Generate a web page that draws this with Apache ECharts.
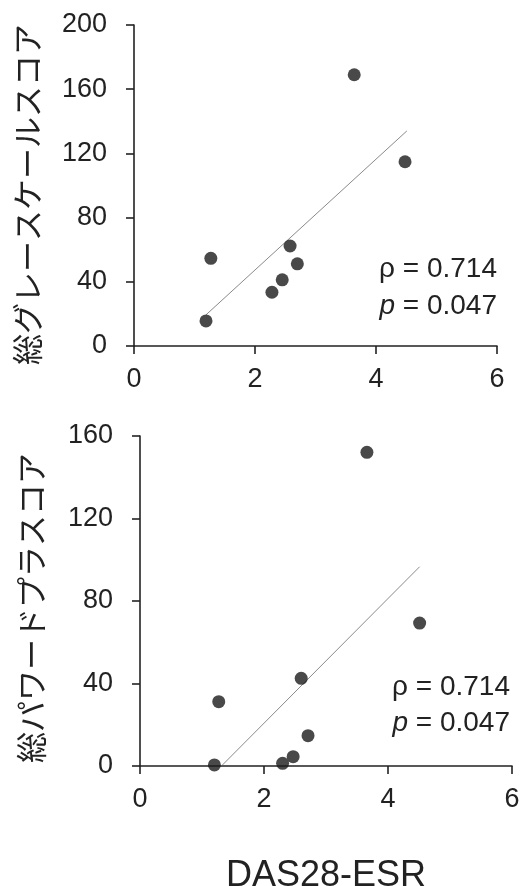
<!DOCTYPE html>
<html>
<head>
<meta charset="utf-8">
<script src="https://cdn.jsdelivr.net/npm/echarts@6/dist/echarts.min.js"></script>
<style>
  html, body { margin: 0; padding: 0; background: #fff; }
  #chart { width: 526px; height: 886px; }
</style>
</head>
<body>
<div id="chart"></div>
<script>
// DAS28-ESR vs total grey-scale score (top panel)
const das28Grey = [1.19, 1.27, 2.28, 2.45, 2.58, 2.70, 3.64, 4.48]
const greyScore = [15.6, 54.6, 33.5, 41.2, 62.3, 51.2, 169, 114.8]
const greyFitX = [1.19, 4.51]
const greyFitY = [19.4, 134]

// DAS28-ESR vs total power Doppler score (bottom panel)
const das28Power = [1.20, 1.27, 2.30, 2.47, 2.60, 2.71, 3.66, 4.51]
const powerScore = [0.5, 31.2, 1.3, 4.5, 42.5, 14.7, 152.1, 69.3]
const powerFitX = [1.33, 4.51]
const powerFitY = [0.5, 96.6]

const xTicks = [0, 2, 4, 6]
const greyTicks = [0, 40, 80, 120, 160, 200]
const powerTicks = [0, 40, 80, 120, 160]

const statRho = 'ρ = 0.714'
const statP = '0.047'

const latin = '"Liberation Sans", Arial, sans-serif'
const cjk = '"Noto Sans CJK JP", sans-serif'
const ink = '#222'

const chart = echarts.init(document.getElementById('chart'))

function pairs(xs, ys) {
  return xs.map((x, i) => [x, ys[i]])
}

function xAxisOf(gridIndex, extra) {
  return Object.assign({
    type: 'value',
    gridIndex: gridIndex,
    min: xTicks[0],
    max: xTicks[xTicks.length - 1],
    interval: xTicks[1] - xTicks[0],
    splitLine: { show: false },
    axisLine: { lineStyle: { color: ink, width: 1.6 } },
    axisTick: { length: 8, lineStyle: { color: ink, width: 1.6 } },
    axisLabel: { color: ink, fontSize: 27, fontFamily: latin, margin: 20 }
  }, extra)
}

function yAxisOf(gridIndex, ticks, name, nameGap, pad) {
  return {
    type: 'value',
    gridIndex: gridIndex,
    min: ticks[0],
    max: ticks[ticks.length - 1],
    interval: ticks[1] - ticks[0],
    name: name,
    nameLocation: 'middle',
    nameRotate: 90,
    nameGap: nameGap,
    nameTextStyle: { color: ink, fontSize: 31, fontFamily: cjk, lineHeight: 32, padding: pad },
    splitLine: { show: false },
    axisLine: { show: true, lineStyle: { color: ink, width: 1.6 } },
    axisTick: { show: true, length: 8, lineStyle: { color: ink, width: 1.6 } },
    axisLabel: { color: ink, fontSize: 27, fontFamily: latin, margin: 27 }
  }
}

function statText(right, y1, y2) {
  return [{
    type: 'text',
    right: right,
    top: y1,
    style: { text: statRho, font: '28px ' + latin, fill: ink, align: 'right' }
  }, {
    type: 'text',
    right: right,
    top: y2,
    style: {
      text: '{i|p} = ' + statP,
      font: '28px ' + latin,
      fill: ink,
      align: 'right',
      rich: { i: { fontStyle: 'italic', fontSize: 28, fontFamily: 'Liberation Sans', color: ink } }
    }
  }]
}

chart.setOption({
  backgroundColor: '#fff',
  animation: false,
  grid: [
    { left: 134, top: 25, width: 363, height: 321, outerBoundsMode: 'none' },
    { left: 140, top: 436, width: 372, height: 330, outerBoundsMode: 'none' }
  ],
  xAxis: [
    xAxisOf(0, {}),
    xAxisOf(1, {
      name: 'DAS28-ESR',
      nameLocation: 'middle',
      nameGap: 92,
      nameTextStyle: { color: ink, fontSize: 36, fontFamily: latin, lineHeight: 36 }
    })
  ],
  yAxis: [
    yAxisOf(0, greyTicks, '総グレースケールスコア', 91, [0, 18, 0, 0]),
    yAxisOf(1, powerTicks, '総パワードプラスコア', 93, [0, 14, 0, 0])
  ],
  graphic: [].concat(statText(29, 255, 292), statText(16, 673, 709)),
  series: [
    {
      type: 'line',
      xAxisIndex: 0,
      yAxisIndex: 0,
      data: pairs(greyFitX, greyFitY),
      showSymbol: false,
      lineStyle: { color: '#8a8a8a', width: 1 },
      z: 1
    },
    {
      type: 'scatter',
      xAxisIndex: 0,
      yAxisIndex: 0,
      data: pairs(das28Grey, greyScore),
      symbolSize: 13,
      itemStyle: { color: '#1c1c1c' },
      z: 3
    },
    {
      type: 'line',
      xAxisIndex: 1,
      yAxisIndex: 1,
      data: pairs(powerFitX, powerFitY),
      showSymbol: false,
      lineStyle: { color: '#8a8a8a', width: 1 },
      z: 1
    },
    {
      type: 'scatter',
      xAxisIndex: 1,
      yAxisIndex: 1,
      data: pairs(das28Power, powerScore),
      symbolSize: 13,
      itemStyle: { color: '#1c1c1c' },
      z: 3
    }
  ]
})
</script>
</body>
</html>
